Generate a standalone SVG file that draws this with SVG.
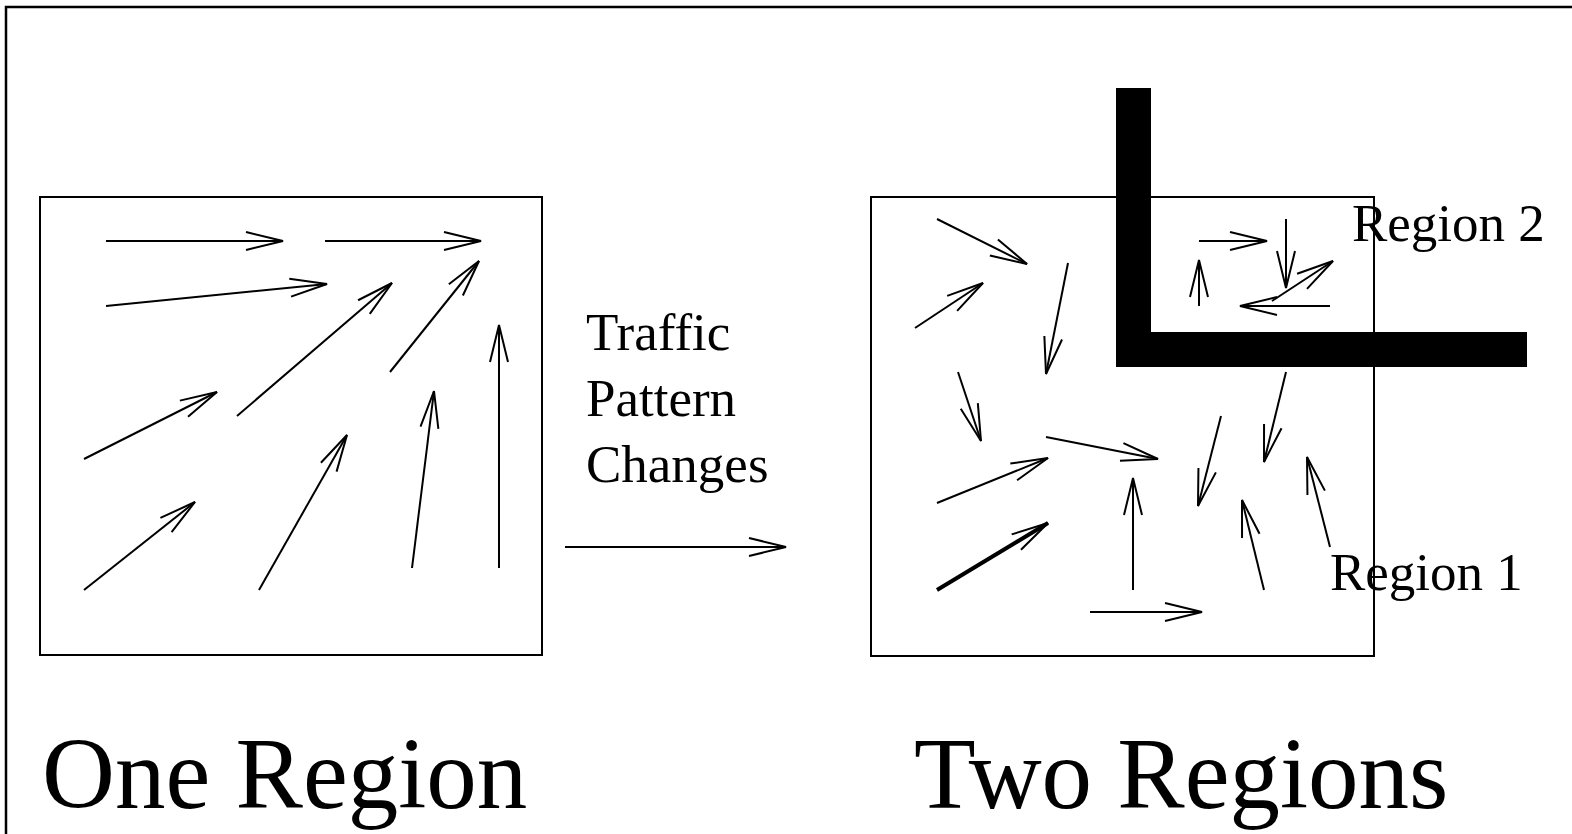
<svg xmlns="http://www.w3.org/2000/svg" width="1572" height="834" viewBox="0 0 1572 834">
<style>
.box{fill:none;stroke:#000;stroke-width:2}
.ar{fill:none;stroke:#000;stroke-width:2;marker-end:url(#head)}
.thick{stroke-width:4}
.t{font-family:"Liberation Serif","Times New Roman",serif;fill:#000}
.s52{font-size:53px}
.s100{font-size:101px}
</style>
<defs>
<marker id="head" markerUnits="userSpaceOnUse" viewBox="-40 -12 42 24" refX="0" refY="0" markerWidth="42" markerHeight="24" orient="auto" overflow="visible">
<path d="M-37,-9 L0,0 L-37,9" fill="none" stroke="#000" stroke-width="2"/>
</marker>
</defs>
<rect width="1572" height="834" fill="#fff"/>
<g id="frame"><path d="M6,834 V7 H1572" fill="none" stroke="#000" stroke-width="2.5"/></g>
<g id="one-region-box"><rect class="box" x="40" y="197" width="502" height="458"/></g>
<g id="two-regions-box"><rect class="box" x="871" y="197" width="503" height="459"/></g>
<g id="wall"><path d="M1116,88 H1151 V332 H1527 V367 H1116 Z" fill="#000"/></g>
<g id="connectors">
<line class="ar" x1="106" y1="241" x2="283" y2="241"/>
<line class="ar" x1="325" y1="241" x2="481" y2="241"/>
<line class="ar" x1="106" y1="306" x2="327" y2="284"/>
<line class="ar" x1="237" y1="416" x2="392" y2="283"/>
<line class="ar" x1="390" y1="372" x2="479" y2="261"/>
<line class="ar" x1="499" y1="568" x2="499" y2="325"/>
<line class="ar" x1="84" y1="459" x2="217" y2="392"/>
<line class="ar" x1="84" y1="590" x2="195" y2="502"/>
<line class="ar" x1="259" y1="590" x2="347" y2="435"/>
<line class="ar" x1="412" y1="568" x2="434" y2="391"/>
<line class="ar" x1="565" y1="547" x2="786" y2="547"/>
<line class="ar" x1="937" y1="219" x2="1027" y2="264"/>
<line class="ar" x1="915" y1="328" x2="983" y2="283"/>
<line class="ar" x1="1068" y1="263" x2="1046" y2="374"/>
<line class="ar" x1="958" y1="372" x2="981" y2="441"/>
<line class="ar" x1="1046" y1="437" x2="1158" y2="459"/>
<line class="ar" x1="1199" y1="241" x2="1267" y2="241"/>
<line class="ar" x1="1199" y1="306" x2="1199" y2="260"/>
<line class="ar" x1="1286" y1="219" x2="1286" y2="288"/>
<line class="ar" x1="1272" y1="301" x2="1333" y2="261"/>
<line class="ar" x1="1330" y1="306" x2="1240" y2="306"/>
<line class="ar" x1="1286" y1="372" x2="1264" y2="462"/>
<line class="ar" x1="1221" y1="416" x2="1198" y2="506"/>
<line class="ar" x1="937" y1="503" x2="1048" y2="458"/>
<line class="ar thick" x1="937" y1="590" x2="1048" y2="523"/>
<line class="ar" x1="1133" y1="590" x2="1133" y2="478"/>
<line class="ar" x1="1090" y1="612" x2="1202" y2="612"/>
<line class="ar" x1="1264" y1="590" x2="1242" y2="500"/>
<line class="ar" x1="1330" y1="547" x2="1307" y2="457"/>
</g>
<g id="label-traffic">
<text class="t s52" x="586" y="350">Traffic</text>
<text class="t s52" x="586" y="416">Pattern</text>
<text class="t s52" x="586" y="482">Changes</text>
</g>
<g id="label-region2"><text class="t s52" x="1352" y="241">Region 2</text></g>
<g id="label-region1"><text class="t s52" x="1330" y="590">Region 1</text></g>
<g id="label-one"><text class="t s100" x="42" y="808">One Region</text></g>
<g id="label-two"><text class="t s100" x="914" y="808">Two Regions</text></g>
</svg>
